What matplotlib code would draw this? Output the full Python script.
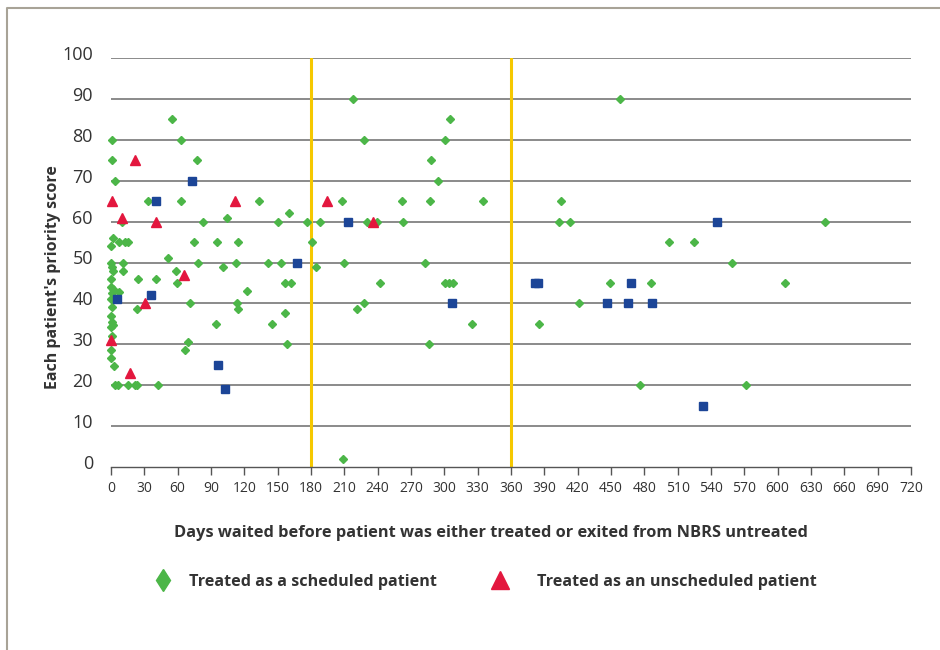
import matplotlib.pyplot as plt
import matplotlib.transforms as mtransforms
from matplotlib.lines import Line2D

# days waited / priority score
sched_days = [55, 0.6, 63, 1, 77, 4, 33.6, 63, 9.6, 83, 2, 0, 7.5, 13, 15, 75, 51.6, 0, 0.6, 2,
              10.5, 10.5, 78.6, 58.5, 0, 24, 40.5, 59.7, 0, 2, 0.6, 7.5, 0, 0.6, 0, 0.6, 2, 0,
              23.7, 71, 0.6, 69.6, 66.6, 0, 0, 2.7, 3.6, 6.6, 15.6, 21.6, 23.7, 42.6,
              133.5, 160.5, 104.7, 150.6, 176.7, 188, 95.7, 114.6, 180.6, 100.5, 112.5, 141.6,
              152.7, 184.5, 156.6, 161.7, 122.7, 113.7, 114.6, 156.6, 94.5, 144.6, 158.7,
              217.5, 305, 228, 301, 288, 294, 207.6, 262, 287, 335, 405, 230, 239.6, 263, 403,
              413.4, 210, 283, 241.8, 301, 304.5, 308, 449, 228, 221, 421.5, 325, 385, 286, 208.5,
              458, 642.6, 502, 525, 559, 486, 606.6, 476, 571.5]
sched_score = [85, 80, 80, 75, 75, 70, 65, 65, 60, 60, 56, 54, 55, 55, 55, 55, 51, 50, 49, 48,
               50, 48, 50, 48, 46, 46, 46, 45, 44, 43.5, 42.5, 42.7, 41, 39, 37, 35.5, 34.7, 34.3,
               38.6, 40, 32, 30.6, 28.6, 28.7, 26.6, 24.7, 20, 20, 20, 20, 20, 20,
               65, 62, 61, 60, 60, 60, 55, 55, 55, 49, 50, 50,
               50, 49, 45, 45, 43, 40, 38.6, 37.7, 35, 35, 30,
               90, 85, 80, 80, 75, 70, 65, 65, 65, 65, 65, 60, 60, 60, 60,
               60, 50, 50, 45, 45, 45, 45, 45, 40, 38.7, 40, 35, 35, 30, 2,
               90, 60, 55, 55, 50, 45, 45, 20, 20]

unsched_days = [21.6, 0.6, 9.6, 40.5, 65.7, 30.6, 0, 17, 111.6, 194.7, 236]
unsched_score = [75, 65, 61, 60, 47, 40, 31, 23, 65, 65, 60]

exited_days = [72.6, 40.5, 5, 35.6, 96.6, 102.6, 167.7, 213, 307, 381.5, 384.5, 545, 468,
               446, 465, 487, 532.5]
exited_score = [70, 65, 41, 42, 25, 19, 50, 60, 40, 45, 45, 60, 45, 40, 40, 40, 15]

x_ticks = list(range(0, 721, 30))
y_ticks = list(range(0, 101, 10))
cutoffs = [180, 360]

green = '#4cb648'
red = '#e3173e'
blue = '#1c4597'
gold = '#f5c800'
txt = '#333333'

plt.rcParams['font.family'] = ['Open Sans', 'DejaVu Sans']

fig = plt.figure(figsize=(9.4, 6.5), dpi=100)
ax = fig.add_axes([111/940, 1-467/650, 800/940, 409/650])

for y in y_ticks[1:]:
    ax.axhline(y, color='#8a8a8a', lw=1.4, zorder=1)
for c in cutoffs:
    ax.axvline(c, color=gold, lw=2.2, zorder=2)

ax.plot(sched_days, sched_score, ls='none', marker='D', ms=4.0, color=green, zorder=3, clip_on=False)
ax.plot(exited_days, exited_score, ls='none', marker='s', ms=6, color=blue, zorder=4, clip_on=False)
ax.plot(unsched_days, unsched_score, ls='none', marker='^', ms=7.5, color=red, zorder=5, clip_on=False)

ax.set_xlim(0, 720)
ax.set_ylim(0, 100)
for s in ['top', 'right', 'left']:
    ax.spines[s].set_visible(False)
ax.spines['bottom'].set_color('#555555')
ax.spines['bottom'].set_linewidth(1.0)

ax.set_xticks(x_ticks)
ax.set_yticks(y_ticks)
ax.tick_params(axis='x', direction='out', length=6, width=1, color='#555555',
               labelsize=10, labelcolor=txt, pad=4)
ax.tick_params(axis='y', length=0, labelsize=13, labelcolor=txt, pad=13)
shift = mtransforms.ScaledTranslation(0, 5/100, fig.dpi_scale_trans)
for lab in ax.get_yticklabels():
    lab.set_transform(lab.get_transform() + shift)

ax.set_xlabel('Days waited before patient was either treated or exited from NBRS untreated',
              fontsize=11.8, fontweight='bold', color=txt, va='center')
ax.xaxis.set_label_coords(380/800, -66/409)
ax.set_ylabel("Each patient's priority score", fontsize=11.5, fontweight='bold', color=txt, va='center')
ax.yaxis.set_label_coords(-58/800, 190/409)

# two one-entry legends so each can sit where the original has it
# (fig.legend keeps every legend it makes, so both stay on the figure)
leg_kw = dict(loc='center left', frameon=False, prop={'size': 11.6, 'weight': 'bold'},
              labelcolor=txt, borderaxespad=0, handlelength=1.5)
fig.legend([Line2D([], [], ls='none', marker='d', ms=11.5, color=green)],
           ['Treated as a scheduled patient'],
           bbox_to_anchor=(144/940, 1-582/650), handletextpad=0.9, **leg_kw)
fig.legend([Line2D([], [], ls='none', marker='^', ms=13, color=red)],
           ['Treated as an unscheduled patient'],
           bbox_to_anchor=(481/940, 1-582/650), handletextpad=1.55, **leg_kw)

# page frame
fig.add_artist(Line2D([7/940, 7/940, 1], [0, 1-8/650, 1-8/650], transform=fig.transFigure,
                      color='#a8a397', lw=1.5))

fig.savefig('out.png', dpi=100)
